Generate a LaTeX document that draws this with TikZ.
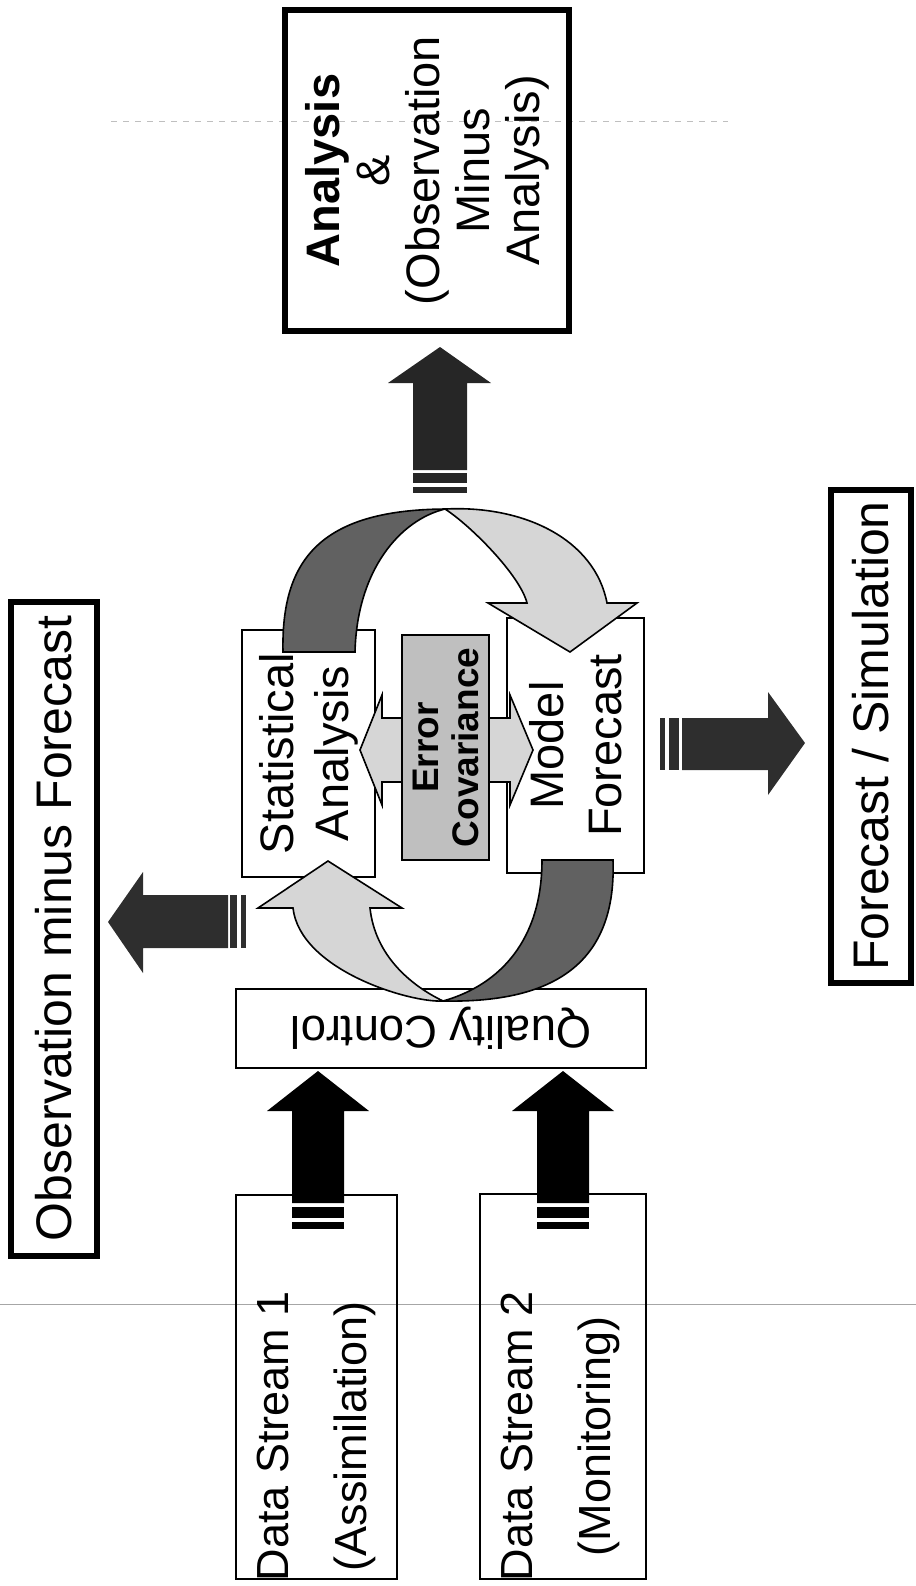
\documentclass[tikz,border=0pt]{standalone}
\usepackage{fontspec}
\setmainfont{Liberation Sans}
\tikzset{
  box/.style={draw, line width=1pt, inner sep=0pt, align=center, font=\fontsize{23.5}{27.5}\selectfont},
  outbox/.style={box, line width=3pt, font=\fontsize{25}{28}\selectfont},
  dstext/.style={rotate=90, inner sep=0pt, align=center, font=\fontsize{22.5}{39}\selectfont},
  darkfill/.style={fill=black!62, draw=black, line width=0.8pt},
  lightfill/.style={fill=black!16, draw=black, line width=0.8pt},
}
\begin{document}
\begin{tikzpicture}[x=0.5pt,y=-0.5pt]
\useasboundingbox (0,0) rectangle (916,1586);
% fold marks of the scanned page
\draw[gray!50, line width=0.4pt, dashed] (111,121) -- (728,121);
\draw[gray!70, line width=0.5pt] (0,1304) -- (916,1304);

% output boxes
\node[outbox, rotate=90, minimum width=160.5pt, minimum height=142pt, font=\fontsize{23.5}{25}\selectfont] (ana) at (427,170.5)
  {\textbf{Analysis}\\\&\\(Observation\\Minus\\Analysis)};
\node[outbox, rotate=90, minimum width=327pt, minimum height=43pt] (omf) at (53.5,928.5) {Observation minus Forecast};
\node[outbox, rotate=90, minimum width=246.5pt, minimum height=40pt] (fcs) at (870.5,736) {Forecast / Simulation};

% cycle
\node[box, rotate=90, minimum width=123.5pt, minimum height=66.5pt] (stat) at (308.5,753.5) {Statistical\\Analysis};
\node[box, rotate=90, minimum width=127.5pt, minimum height=68.5pt, font=\fontsize{23.5}{29}\selectfont] (mod) at (575.5,745.5) {Model\\Forecast};
\node[box, rotate=180, minimum width=205pt, minimum height=39.5pt, font=\fontsize{22.75}{26}\selectfont] (qc) at (441,1028.5) {Quality Control};

\draw[lightfill] (360,750) -- (382,695) -- (382,718) -- (510,718) -- (510,695) -- (533,750)
  -- (510,805) -- (510,782) -- (382,782) -- (382,805) -- cycle;
\node[box, rotate=90, fill=black!25, minimum width=112.5pt, minimum height=43.5pt, font=\bfseries\fontsize{18.5}{20}\selectfont] (err) at (445.5,747.5) {Error\\Covariance};

% data streams
\node[box, rotate=90, minimum width=192pt, minimum height=80.5pt] (ds1) at (316.5,1387) {};
\node[box, rotate=90, minimum width=192.5pt, minimum height=83pt] (ds2) at (563,1386.5) {};
\node[dstext] (ds1txt) at (316,1436) {Data Stream 1\\(Assimilation)};
\node[dstext] (ds2txt) at (560,1436) {Data Stream 2\\(Monitoring)};

% curved arrows
\draw[darkfill] (283,652) .. controls (281,560) and (320,510) .. (445,509)
  .. controls (400,520) and (357,570) .. (355,652) -- cycle;
\draw[lightfill] (445,509) .. controls (525,505) and (595,540) .. (607,603) -- (637,603) -- (570,652)
  -- (488,603) -- (527,603) .. controls (520,575) and (470,525) .. (445,509) -- cycle;
\draw[lightfill] (443,1001) .. controls (410,1003) and (300,970) .. (293,908) -- (258,908) -- (328,861)
  -- (402,908) -- (370,908) .. controls (375,955) and (410,985) .. (443,1001) -- cycle;
\draw[darkfill] (613,860) .. controls (617,970) and (545,1003) .. (443,1001)
  .. controls (500,985) and (542,940) .. (542,860) -- cycle;

% block arrows
\foreach \cx in {318,563} {
  \fill[black] (\cx-26,1203) -- (\cx-26,1111) -- (\cx-51,1111) -- (\cx,1071) -- (\cx+51,1111) -- (\cx+26,1111) -- (\cx+26,1203) -- cycle;
  \fill[black] (\cx-26,1207) rectangle (\cx+26,1218);
  \fill[black] (\cx-26,1222) rectangle (\cx+26,1229);
}
\fill[black!85] (413,470) -- (413,383) -- (388,383) -- (440,347) -- (491,383) -- (467,383) -- (467,470) -- cycle;
\fill[black!85] (413,473) rectangle (467,483);
\fill[black!85] (413,487) rectangle (467,493);
\fill[black!82] (228,895) -- (143,895) -- (143,872) -- (108,922) -- (143,973) -- (143,948) -- (228,948) -- cycle;
\fill[black!82] (230,895) rectangle (237,948);
\fill[black!82] (241,895) rectangle (246,948);
\fill[black!82] (682,718) -- (768,718) -- (768,692) -- (805,743) -- (768,795) -- (768,770) -- (682,770) -- cycle;
\fill[black!82] (660,718) rectangle (665,770);
\fill[black!82] (669,718) rectangle (679,770);
\end{tikzpicture}
\end{document}
